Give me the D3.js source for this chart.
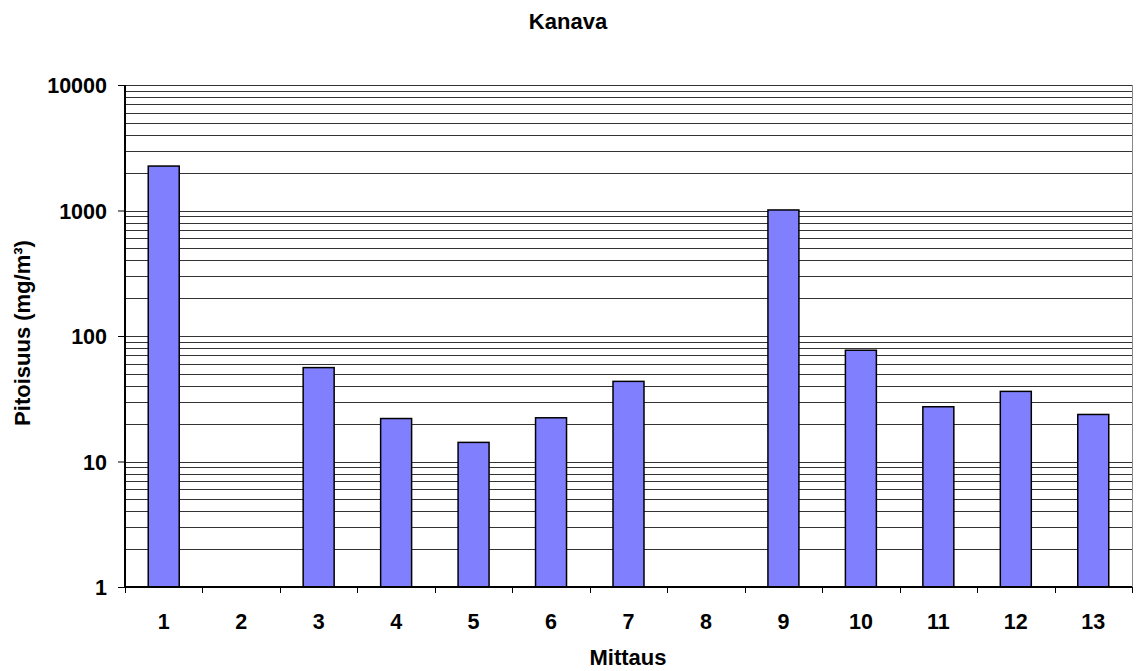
<!DOCTYPE html>
<html>
<head>
<meta charset="utf-8">
<script src="https://cdn.jsdelivr.net/npm/d3@7"></script>
<style>
  body { margin: 0; background: #fff; }
  svg text { font-family: "Liberation Sans", Arial, sans-serif; font-weight: bold; fill: #000; }
</style>
</head>
<body>
<svg id="chart" width="1143" height="671"></svg>
<script>
// Measurement numbers and concentrations (mg/m³); null = not measured
const categories = ["1","2","3","4","5","6","7","8","9","10","11","12","13"];
const values = [2260, null, 56, 22, 14.2, 22.3, 43.5, null, 1010, 77, 27.3, 36.2, 23.7];
const yTicks = [1, 10, 100, 1000, 10000];

const title = "Kanava";
const xTitle = "Mittaus";
const yTitle = "Pitoisuus (mg/m³)";

const svg = d3.select("#chart");
const m = { left: 125, right: 1132, top: 85, bottom: 587 };
const FS_TICK = "21.5px";
const FS_TITLE = "22px";

const x = d3.scaleBand().domain(categories).range([m.left, m.right]).paddingInner(0.6).paddingOuter(0.3);
const xb = d3.scaleBand().domain(categories).range([m.left, m.right]);
const y = d3.scaleLog().domain([1, 10000]).range([m.bottom, m.top]);

// horizontal gridlines at every 1–9 step of each decade
const grid = [];
for (let d = 1; d < 10000; d *= 10) for (let k = 1; k <= 9; k++) grid.push(d * k);
grid.push(10000);
svg.append("g").selectAll("line").data(grid.filter(v => v > 1)).join("line")
  .attr("x1", m.left).attr("x2", m.right)
  .attr("y1", d => Math.round(y(d)) + 0.5).attr("y2", d => Math.round(y(d)) + 0.5)
  .attr("stroke", "#333").attr("stroke-width", 1);

// right border of plot area
svg.append("line").attr("x1", m.right + 0.5).attr("x2", m.right + 0.5)
  .attr("y1", m.top).attr("y2", m.bottom).attr("stroke", "#888").attr("stroke-width", 1);

// bars
svg.append("g").selectAll("rect").data(categories.map((c, i) => ({ c, v: values[i] })).filter(d => d.v != null))
  .join("rect")
  .attr("x", d => x(d.c)).attr("width", x.bandwidth())
  .attr("y", d => y(d.v)).attr("height", d => y(1) - y(d.v))
  .attr("fill", "#8080FF").attr("stroke", "#000").attr("stroke-width", 1.5);

// y axis
const yAxis = d3.axisLeft(y).tickValues(yTicks).tickFormat(d3.format("d")).tickSize(7).tickPadding(11);
const gy = svg.append("g").attr("transform", `translate(${m.left},0)`).call(yAxis);
gy.select(".domain").attr("stroke", "#000").attr("stroke-width", 2).attr("d", `M0,${m.top}V${m.bottom}`);
gy.selectAll(".tick line").attr("stroke", "#000");
gy.selectAll("text").style("font-size", FS_TICK).attr("dy", "0.35em");

// x axis with ticks at category boundaries
const gx = svg.append("g").attr("transform", `translate(0,${m.bottom})`);
gx.append("line").attr("x1", m.left).attr("x2", m.right).attr("y1", 0).attr("y2", 0)
  .attr("stroke", "#000").attr("stroke-width", 2);
const bounds = categories.map(c => xb(c)).concat([m.right]);
gx.selectAll("line.t").data(bounds).join("line").attr("class", "t")
  .attr("x1", d => Math.round(d) + 0.5).attr("x2", d => Math.round(d) + 0.5)
  .attr("y1", 0).attr("y2", 6).attr("stroke", "#000");
gx.selectAll("text").data(categories).join("text")
  .attr("x", d => xb(d) + xb.bandwidth() / 2).attr("y", 42)
  .attr("text-anchor", "middle").style("font-size", FS_TICK).text(d => d);

// titles
svg.append("text").attr("x", 568).attr("y", 29).attr("text-anchor", "middle")
  .style("font-size", FS_TITLE).text(title);
svg.append("text").attr("x", 628).attr("y", 665).attr("text-anchor", "middle")
  .style("font-size", FS_TITLE).text(xTitle);
svg.append("text").attr("transform", "translate(30,333) rotate(-90)").attr("text-anchor", "middle")
  .style("font-size", FS_TITLE).text(yTitle);
</script>
</body>
</html>
